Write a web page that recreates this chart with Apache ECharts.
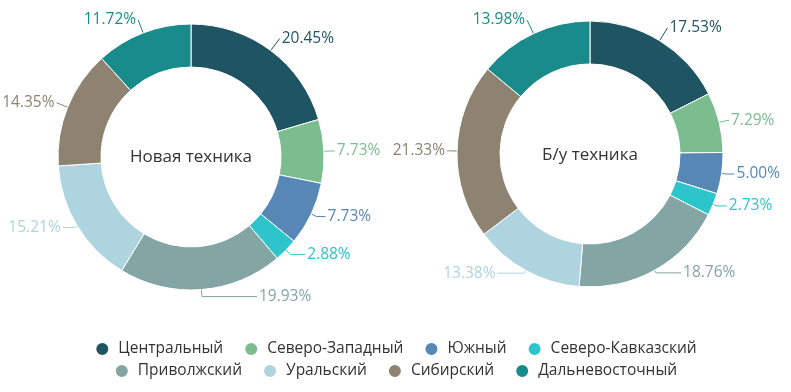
<!DOCTYPE html>
<html><head><meta charset="utf-8">
<script src="https://cdn.jsdelivr.net/npm/echarts@6/dist/echarts.min.js"></script>
<style>html,body{margin:0;padding:0;background:#fff}#c{width:791px;height:392px}</style>
</head><body><div id="c"></div>
<script>
const categories = ['Центральный','Северо-Западный','Южный','Северо-Кавказский','Приволжский','Уральский','Сибирский','Дальневосточный'];
const newValues = [20.45,7.73,7.73,2.88,19.93,15.21,14.35,11.72];
const usedValues = [17.53,7.29,5.00,2.73,18.76,13.38,21.33,13.98];
const titles = ['Новая техника','Б/у техника'];
const colors = ['#1f5462','#7bbd8e','#5687b5','#2ec4cb','#83a5a3','#aed4df','#8d8370','#1a8b8b'];
const font = '"Open Sans", "Noto Sans", sans-serif';
// label-line lengths [length, length2] per slice (styling, not data)
const newLines = [[15,0],[6,5],[6,9],[6,15],[7,55],[3,12],[12,0],[14,0]];
const usedLines = [[15,0],[8,2],[5,8],[4,10],[3,25],[3,27],[8,2],[15,0]];

function series(values, lines, cx, cy, name){
  return {
    type:'pie', name, center:[cx,cy], radius:[90,133], startAngle:90, clockwise:true,
    avoidLabelOverlap:false,
    itemStyle:{borderColor:'#fff',borderWidth:1},
    label:{show:true, formatter:p=>p.value.toFixed(2)+'%', fontSize:15.5, fontFamily:font, overflow:'none', padding:0, distanceToLabelLine:2},
    labelLine:{show:true,lineStyle:{width:1}},
    emphasis:{disabled:true},
    data: categories.map((c,i)=>({name:c,value:values[i],itemStyle:{color:colors[i]},label:{color:colors[i]},
      labelLine:{length:lines[i][0],length2:lines[i][1],lineStyle:{color:colors[i]}}}))
  };
}
const legendCommon = {left:'center', icon:'circle', itemWidth:14, itemHeight:14, itemGap:20,
    textStyle:{fontSize:15.5,fontFamily:font,color:'#333',padding:[0,0,0,4]}};
const chart = echarts.init(document.getElementById('c'));
chart.setOption({
  animation:false,
  color:colors,
  graphic:[
    {type:'text',x:191,y:157,style:{text:titles[0],fontSize:17,fontFamily:font,fill:'#333',align:'center',verticalAlign:'middle'}},
    {type:'text',x:590,y:155,style:{text:titles[1],fontSize:17,fontFamily:font,fill:'#333',align:'center',verticalAlign:'middle'}}
  ],
  legend:[
    Object.assign({data:categories.slice(0,4), top:336}, legendCommon),
    Object.assign({data:categories.slice(4), top:358}, legendCommon)
  ],
  series:[series(newValues,newLines,191,157,titles[0]), series(usedValues,usedLines,590,154,titles[1])]
});
</script></body></html>
